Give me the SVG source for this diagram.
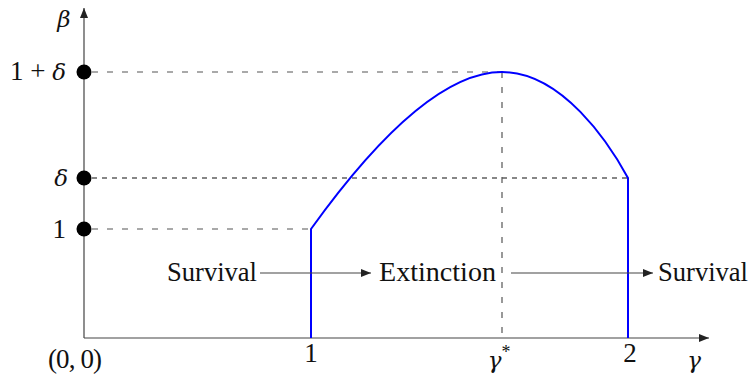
<svg xmlns="http://www.w3.org/2000/svg" width="750" height="376" viewBox="0 0 750 376">
<defs>
<style>
text{font-family:"Liberation Serif","Times New Roman",serif;font-size:27px;fill:#111}
.m{font-family:"DejaVu Serif","Liberation Serif",serif;font-style:italic;font-size:23px}
.axis{stroke:#444;stroke-width:1.2;fill:none}
.gd{stroke:#555;stroke-width:1.2;stroke-dasharray:6 9;fill:none}
.bd{stroke:#111;stroke-width:1.1;stroke-dasharray:5 5;fill:none}
.blue{stroke:#0000ff;stroke-width:2;fill:none}
.arr{stroke:#444;stroke-width:1.2;fill:none}
.dot{fill:#000}
</style>
<marker id="ah" viewBox="0 0 10 8" refX="10" refY="4" markerWidth="10" markerHeight="8" markerUnits="userSpaceOnUse" orient="auto">
<path d="M0,0 L10,4 L0,8 Z" fill="#222"/>
</marker>
</defs>
<rect width="750" height="376" fill="#fff"/>
<g id="axes">
<line class="axis" x1="84" y1="338" x2="84" y2="8" marker-end="url(#ah)"/>
<line class="axis" x1="84" y1="338" x2="709" y2="338" marker-end="url(#ah)"/>
</g>
<g id="guides">
<line class="gd" x1="92" y1="72" x2="502" y2="72"/>
<line class="bd" x1="92" y1="178" x2="628" y2="178"/>
<line class="gd" x1="92" y1="229" x2="311" y2="229"/>
<line class="gd" x1="502" y1="72" x2="502" y2="338"/>
</g>
<g id="boundary">
<path class="blue" d="M311,338 L311,229 C352,172 430,72 502,72 C562,72 609,143 628,178 L628,338"/>
</g>
<g id="dot-1delta"><circle class="dot" cx="84" cy="72" r="7.5"/><text x="66" y="80" text-anchor="end">1 + <tspan class="m">δ</tspan></text></g>
<g id="dot-delta"><circle class="dot" cx="84" cy="178" r="7.5"/><text x="68" y="186" text-anchor="end" class="m">δ</text></g>
<g id="dot-1"><circle class="dot" cx="84" cy="229" r="7.5"/><text x="66" y="238" text-anchor="end">1</text></g>
<g id="label-beta"><text x="64" y="27" text-anchor="middle" class="m">β</text></g>
<g id="label-origin"><text x="75" y="368" text-anchor="middle" textLength="54" lengthAdjust="spacing">(0, 0)</text></g>
<g id="label-x1"><text x="311" y="362" text-anchor="middle">1</text></g>
<g id="label-gammastar"><text x="499" y="368" text-anchor="middle"><tspan class="m">γ</tspan><tspan dy="-10" font-size="18">*</tspan></text></g>
<g id="label-x2"><text x="630" y="362" text-anchor="middle">2</text></g>
<g id="label-gamma"><text x="694" y="368" text-anchor="middle" class="m">γ</text></g>
<g id="survival-left"><text x="167" y="281" textLength="90" lengthAdjust="spacingAndGlyphs">Survival</text></g>
<g id="extinction"><text x="379" y="281" textLength="117" lengthAdjust="spacingAndGlyphs">Extinction</text></g>
<g id="survival-right"><text x="658" y="281" textLength="90" lengthAdjust="spacingAndGlyphs">Survival</text></g>
<g id="connectors">
<line class="arr" x1="260" y1="273" x2="371" y2="273" marker-end="url(#ah)"/>
<line class="arr" x1="511" y1="273" x2="653" y2="273" marker-end="url(#ah)"/>
</g>
</svg>
